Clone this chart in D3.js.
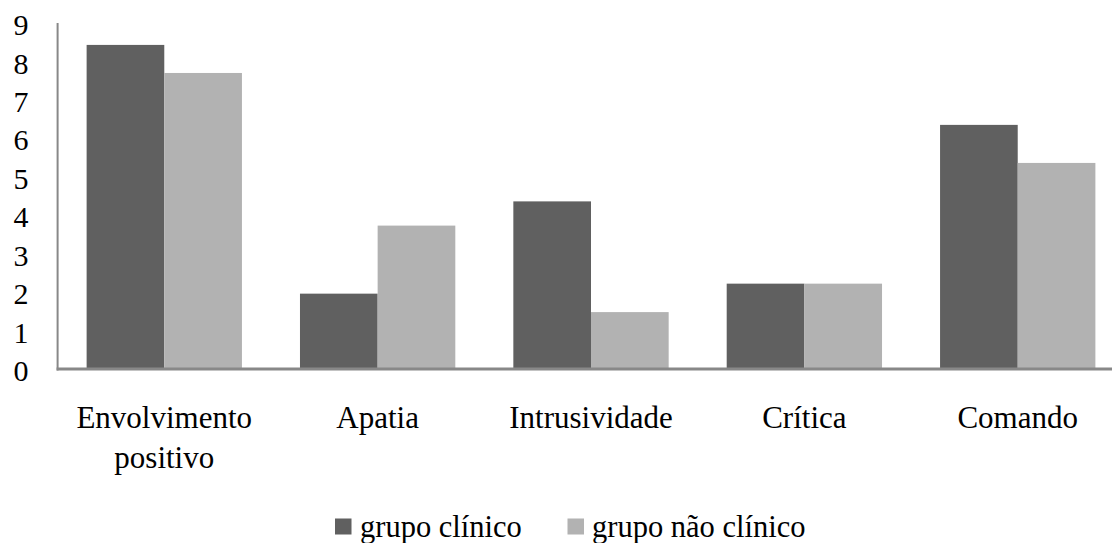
<!DOCTYPE html>
<html>
<head>
<meta charset="utf-8">
<script src="https://cdn.jsdelivr.net/npm/d3@7/dist/d3.min.js"></script>
<style>
  html, body { margin: 0; padding: 0; background: #fff; }
  svg { display: block; font-family: "Liberation Serif", "Times New Roman", serif; }
</style>
</head>
<body>
<svg id="chart" width="1112" height="543"></svg>
<script>
// Categories (each entry is split over lines) and series values
const categories = [
  ["Envolvimento", "positivo"],
  ["Apatia"],
  ["Intrusividade"],
  ["Crítica"],
  ["Comando"]
];
const seriesNames = ["grupo clínico", "grupo não clínico"];
const clinico = [8.43, 1.96, 4.36, 2.22, 6.35];
const naoClinico = [7.70, 3.73, 1.48, 2.22, 5.36];
const yTicks = [0, 1, 2, 3, 4, 5, 6, 7, 8, 9];

const colors = ["#606060", "#b2b2b2"];
const series = [clinico, naoClinico];

const svg = d3.select("#chart");
const W = 1112;
const plot = { left: 57.6, right: 1124.4, top: 23, bottom: 369 };

const catKeys = categories.map(c => c.join(" "));

const x = d3.scaleBand()
  .domain(catKeys)
  .range([plot.left, plot.right])
  .paddingInner(0.272)
  .paddingOuter(0.136);

const xInner = d3.scaleBand()
  .domain(seriesNames)
  .range([0, x.bandwidth()]);

const y = d3.scaleLinear()
  .domain([0, 9])
  .range([plot.bottom, plot.top]);

// Bars
const groups = svg.append("g").selectAll("g")
  .data(catKeys)
  .join("g")
  .attr("transform", d => `translate(${x(d)},0)`);

groups.selectAll("rect")
  .data((d, i) => seriesNames.map((s, j) => ({ s, v: series[j][i], j })))
  .join("rect")
  .attr("x", d => xInner(d.s))
  .attr("y", d => y(d.v))
  .attr("width", xInner.bandwidth())
  .attr("height", d => y(0) - y(d.v))
  .attr("fill", d => colors[d.j]);

// Y axis line
svg.append("line")
  .attr("x1", plot.left).attr("x2", plot.left)
  .attr("y1", plot.top).attr("y2", plot.bottom + 1.5)
  .attr("stroke", "#888").attr("stroke-width", 2);

// Baseline
svg.append("line")
  .attr("x1", plot.left - 1).attr("x2", W)
  .attr("y1", plot.bottom).attr("y2", plot.bottom)
  .attr("stroke", "#888").attr("stroke-width", 3);

// Y tick labels
const yAxis = d3.axisLeft(y).tickValues(yTicks).tickSize(0).tickPadding(0);
const yg = svg.append("g")
  .attr("transform", `translate(21,2)`)
  .call(yAxis);
yg.select(".domain").remove();
yg.selectAll("text")
  .attr("text-anchor", "middle")
  .attr("fill", "#000")
  .style("font-family", "'Liberation Serif', serif")
  .style("font-size", "30px");

// Category labels
const labels = svg.append("g").selectAll("text")
  .data(categories)
  .join("text")
  .attr("x", (d, i) => x(catKeys[i]) + x.bandwidth() / 2)
  .attr("y", 428)
  .attr("text-anchor", "middle")
  .attr("fill", "#000")
  .style("font-size", "31px");

labels.selectAll("tspan")
  .data(d => d)
  .join("tspan")
  .attr("x", function() { return d3.select(this.parentNode).attr("x"); })
  .attr("dy", (d, i) => i === 0 ? 0 : 40)
  .text(d => d);

// Legend
const legendItems = [
  { name: seriesNames[0], sx: 335, tx: 360 },
  { name: seriesNames[1], sx: 567.5, tx: 592 }
];
const legend = svg.append("g");
legend.selectAll("rect")
  .data(legendItems)
  .join("rect")
  .attr("x", d => d.sx).attr("y", 518.5)
  .attr("width", 16.5).attr("height", 16)
  .attr("fill", (d, i) => colors[i]);
legend.selectAll("text")
  .data(legendItems)
  .join("text")
  .attr("x", d => d.tx).attr("y", 536.5)
  .attr("fill", "#000")
  .style("font-size", "30.5px")
  .text(d => d.name);
</script>
</body>
</html>
